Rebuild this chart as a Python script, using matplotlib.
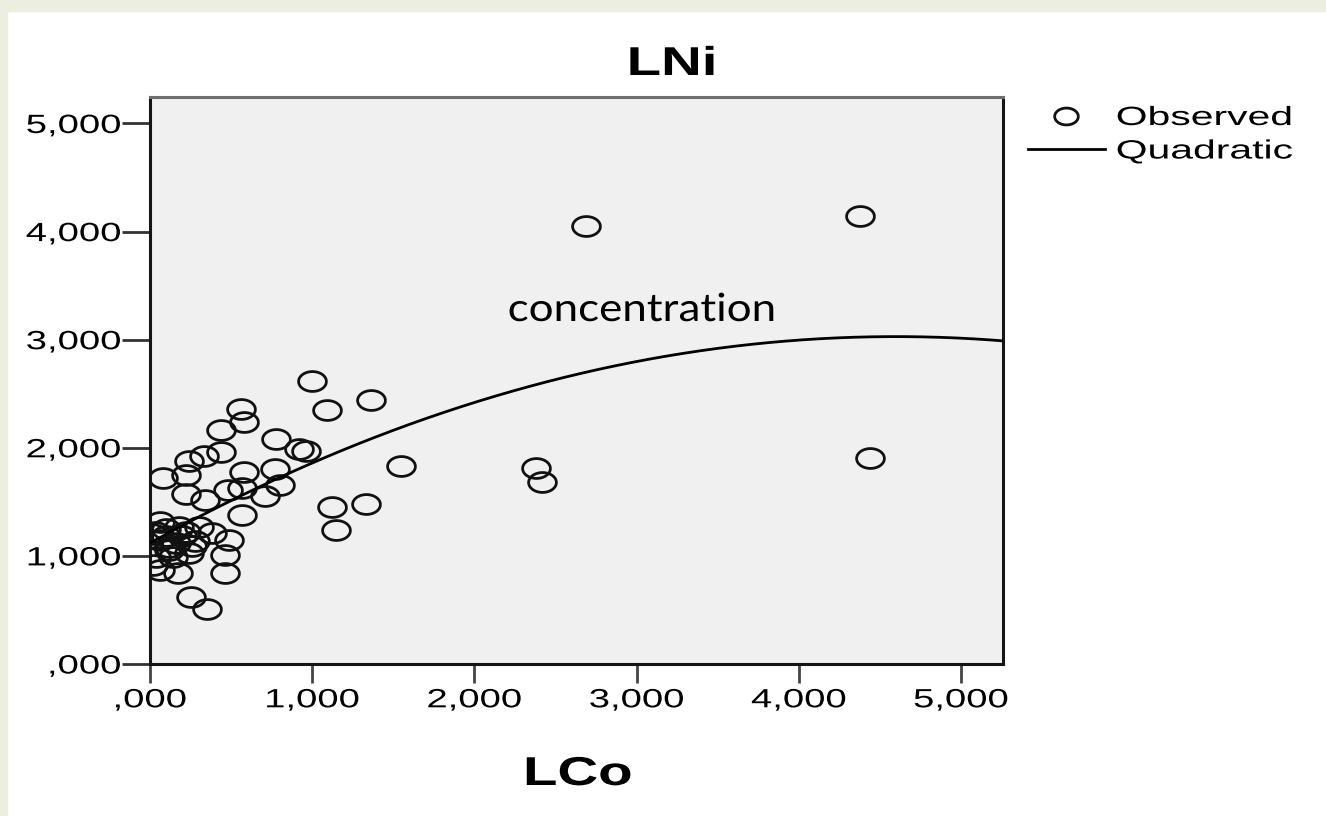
import numpy as np
import matplotlib
matplotlib.use("Agg")
import matplotlib.pyplot as plt
from matplotlib.patheffects import AbstractPathEffect
from matplotlib.transforms import Affine2D
from matplotlib.lines import Line2D
from matplotlib.ticker import FuncFormatter

# ---------------- data ----------------
lco = [2.69, 4.38, 1.00, 1.09, 1.36, 1.55, 2.38, 2.42, 4.44, 1.12, 1.33, 1.15,
       0.56, 0.58, 0.44, 0.78, 0.92, 0.96, 0.44, 0.24, 0.33, 0.08, 0.22, 0.58,
       0.77, 0.22, 0.34, 0.48, 0.57, 0.71, 0.80, 0.57,
       0.06, 0.18, 0.30, 0.38, 0.49, 0.06, 0.16, 0.26, 0.04, 0.14, 0.24, 0.46,
       0.06, 0.17, 0.46, 0.25, 0.35, 0.01, 0.02, 0.10, 0.12,
       0.10, 0.20, 0.28, 0.12, 0.03, 0.22]
lni = [4.05, 4.14, 2.62, 2.35, 2.44, 1.83, 1.81, 1.68, 1.91, 1.45, 1.48, 1.24,
       2.36, 2.24, 2.16, 2.08, 1.99, 1.97, 1.96, 1.88, 1.92, 1.72, 1.75, 1.78,
       1.80, 1.57, 1.52, 1.61, 1.63, 1.55, 1.66, 1.38,
       1.31, 1.27, 1.27, 1.21, 1.15, 1.15, 1.12, 1.09, 0.99, 0.99, 1.03, 1.01,
       0.87, 0.84, 0.84, 0.62, 0.51, 1.20, 0.92, 1.18, 1.05,
       1.25, 1.18, 1.14, 1.08, 1.22, 1.22]
quad_coef = [1.119, 0.8305, -0.0903]   # b0, b1, b2 of quadratic fit
x_ticks = [0, 1, 2, 3, 4, 5]
y_ticks = [0, 1, 2, 3, 4, 5]
x_range = [0.0, 5.26]
y_range = [0.0, 5.245]
title = "LNi"
xlabel = "LCo"
annotation = "concentration"
legend_labels = ["Observed", "Quadratic"]


class HStretch(AbstractPathEffect):
    """Stretch text horizontally (reference image is horizontally stretched)."""
    def __init__(self, sx, anchor="center"):
        super().__init__()
        self.sx = sx
        self.anchor = anchor

    def draw_path(self, renderer, gc, tpath, affine, rgbFace=None):
        ext = tpath.get_extents()
        if self.anchor == "center":
            cx = (ext.x0 + ext.x1) / 2
        elif self.anchor == "right":
            cx = ext.x1
        else:
            cx = ext.x0
        t = Affine2D().translate(-cx, 0).scale(self.sx, 1).translate(cx, 0) + affine
        renderer.draw_path(gc, tpath, t, rgbFace)


SX = 1.45
W, H = 1326, 816
fig = plt.figure(figsize=(W / 100, H / 100), dpi=100, facecolor="white")

# light greenish border strips
fig.patches.append(plt.Rectangle((0, 0), 7 / W, 1, transform=fig.transFigure,
                                 color="#ECEEDF", zorder=0))
fig.patches.append(plt.Rectangle((0, 1 - 11 / H), 1, 11 / H, transform=fig.transFigure,
                                 color="#ECEEDF", zorder=0))

ax = fig.add_axes([150 / W, 1 - 664 / H, (1003 - 150) / W, (664 - 97) / H])
ax.set_facecolor("#F0F0F0")
ax.set_xlim(*x_range)
ax.set_ylim(*y_range)

# elliptical marker (stretched circle)
th = np.linspace(0, 2 * np.pi, 80)
ell = np.column_stack([1.4 * np.cos(th), np.sin(th)])

ax.plot(lco, lni, linestyle="none", marker=ell, markersize=20,
        markerfacecolor="none", markeredgecolor="#111111", markeredgewidth=2.0,
        zorder=3)

xs = np.linspace(x_range[0], x_range[1], 300)
ys = quad_coef[0] + quad_coef[1] * xs + quad_coef[2] * xs ** 2
ax.plot(xs, ys, color="black", linewidth=2.0, zorder=4)

fmt = FuncFormatter(lambda v, p: ("%.3f" % v).replace(".", ",").lstrip("0")
                    if abs(v) < 1 else ("%.3f" % v).replace(".", ","))
ax.xaxis.set_major_formatter(fmt)
ax.yaxis.set_major_formatter(fmt)
ax.set_xticks(x_ticks)
ax.set_yticks(y_ticks)

for s in ["left", "bottom", "right"]:
    ax.spines[s].set_color("#151515")
    ax.spines[s].set_linewidth(2.2)
ax.spines["top"].set_color("#6e6e6e")
ax.spines["top"].set_linewidth(2.2)

ax.tick_params(axis="y", length=20, width=2, color="#333333", pad=1,
               labelsize=19, labelcolor="black")
ax.tick_params(axis="x", length=13.5, width=2, color="#444444", pad=4,
               labelsize=19, labelcolor="black")
for lab in ax.get_yticklabels():
    lab.set_fontfamily("Liberation Sans")
    lab.set_path_effects([HStretch(SX, "right")])
for lab in ax.get_xticklabels():
    lab.set_fontfamily("Liberation Sans")
    lab.set_path_effects([HStretch(SX, "center")])

fig.text(672 / W, 1 - 75 / H, title, ha="center", va="baseline",
         fontsize=29, fontweight="bold", family="Liberation Sans",
         path_effects=[HStretch(1.4, "center")])
fig.text(578 / W, 1 - 785 / H, xlabel, ha="center", va="baseline",
         fontsize=29, fontweight="bold", family="Liberation Sans",
         path_effects=[HStretch(1.4, "center")])

fig.text(642 / W, 1 - 321 / H, annotation, ha="center", va="baseline",
         fontsize=28, family="Lato", color="black",
         path_effects=[HStretch(1.13, "center")])

handles = [Line2D([], [], linestyle="none", marker=ell, markersize=17,
                  markerfacecolor="none", markeredgecolor="#111111",
                  markeredgewidth=2.0),
           Line2D([], [], color="black", linewidth=2.0)]
leg = fig.legend(handles, legend_labels, loc="upper left",
                 bbox_to_anchor=(1028 / W, 1 - 106 / H), frameon=False,
                 borderpad=0, borderaxespad=0, handlelength=2.9,
                 handletextpad=0.45, labelspacing=0.36,
                 prop={"family": "Liberation Sans", "size": 19})
for t in leg.get_texts():
    t.set_path_effects([HStretch(1.55, "left")])

fig.savefig("out.png", dpi=100, facecolor="white")
